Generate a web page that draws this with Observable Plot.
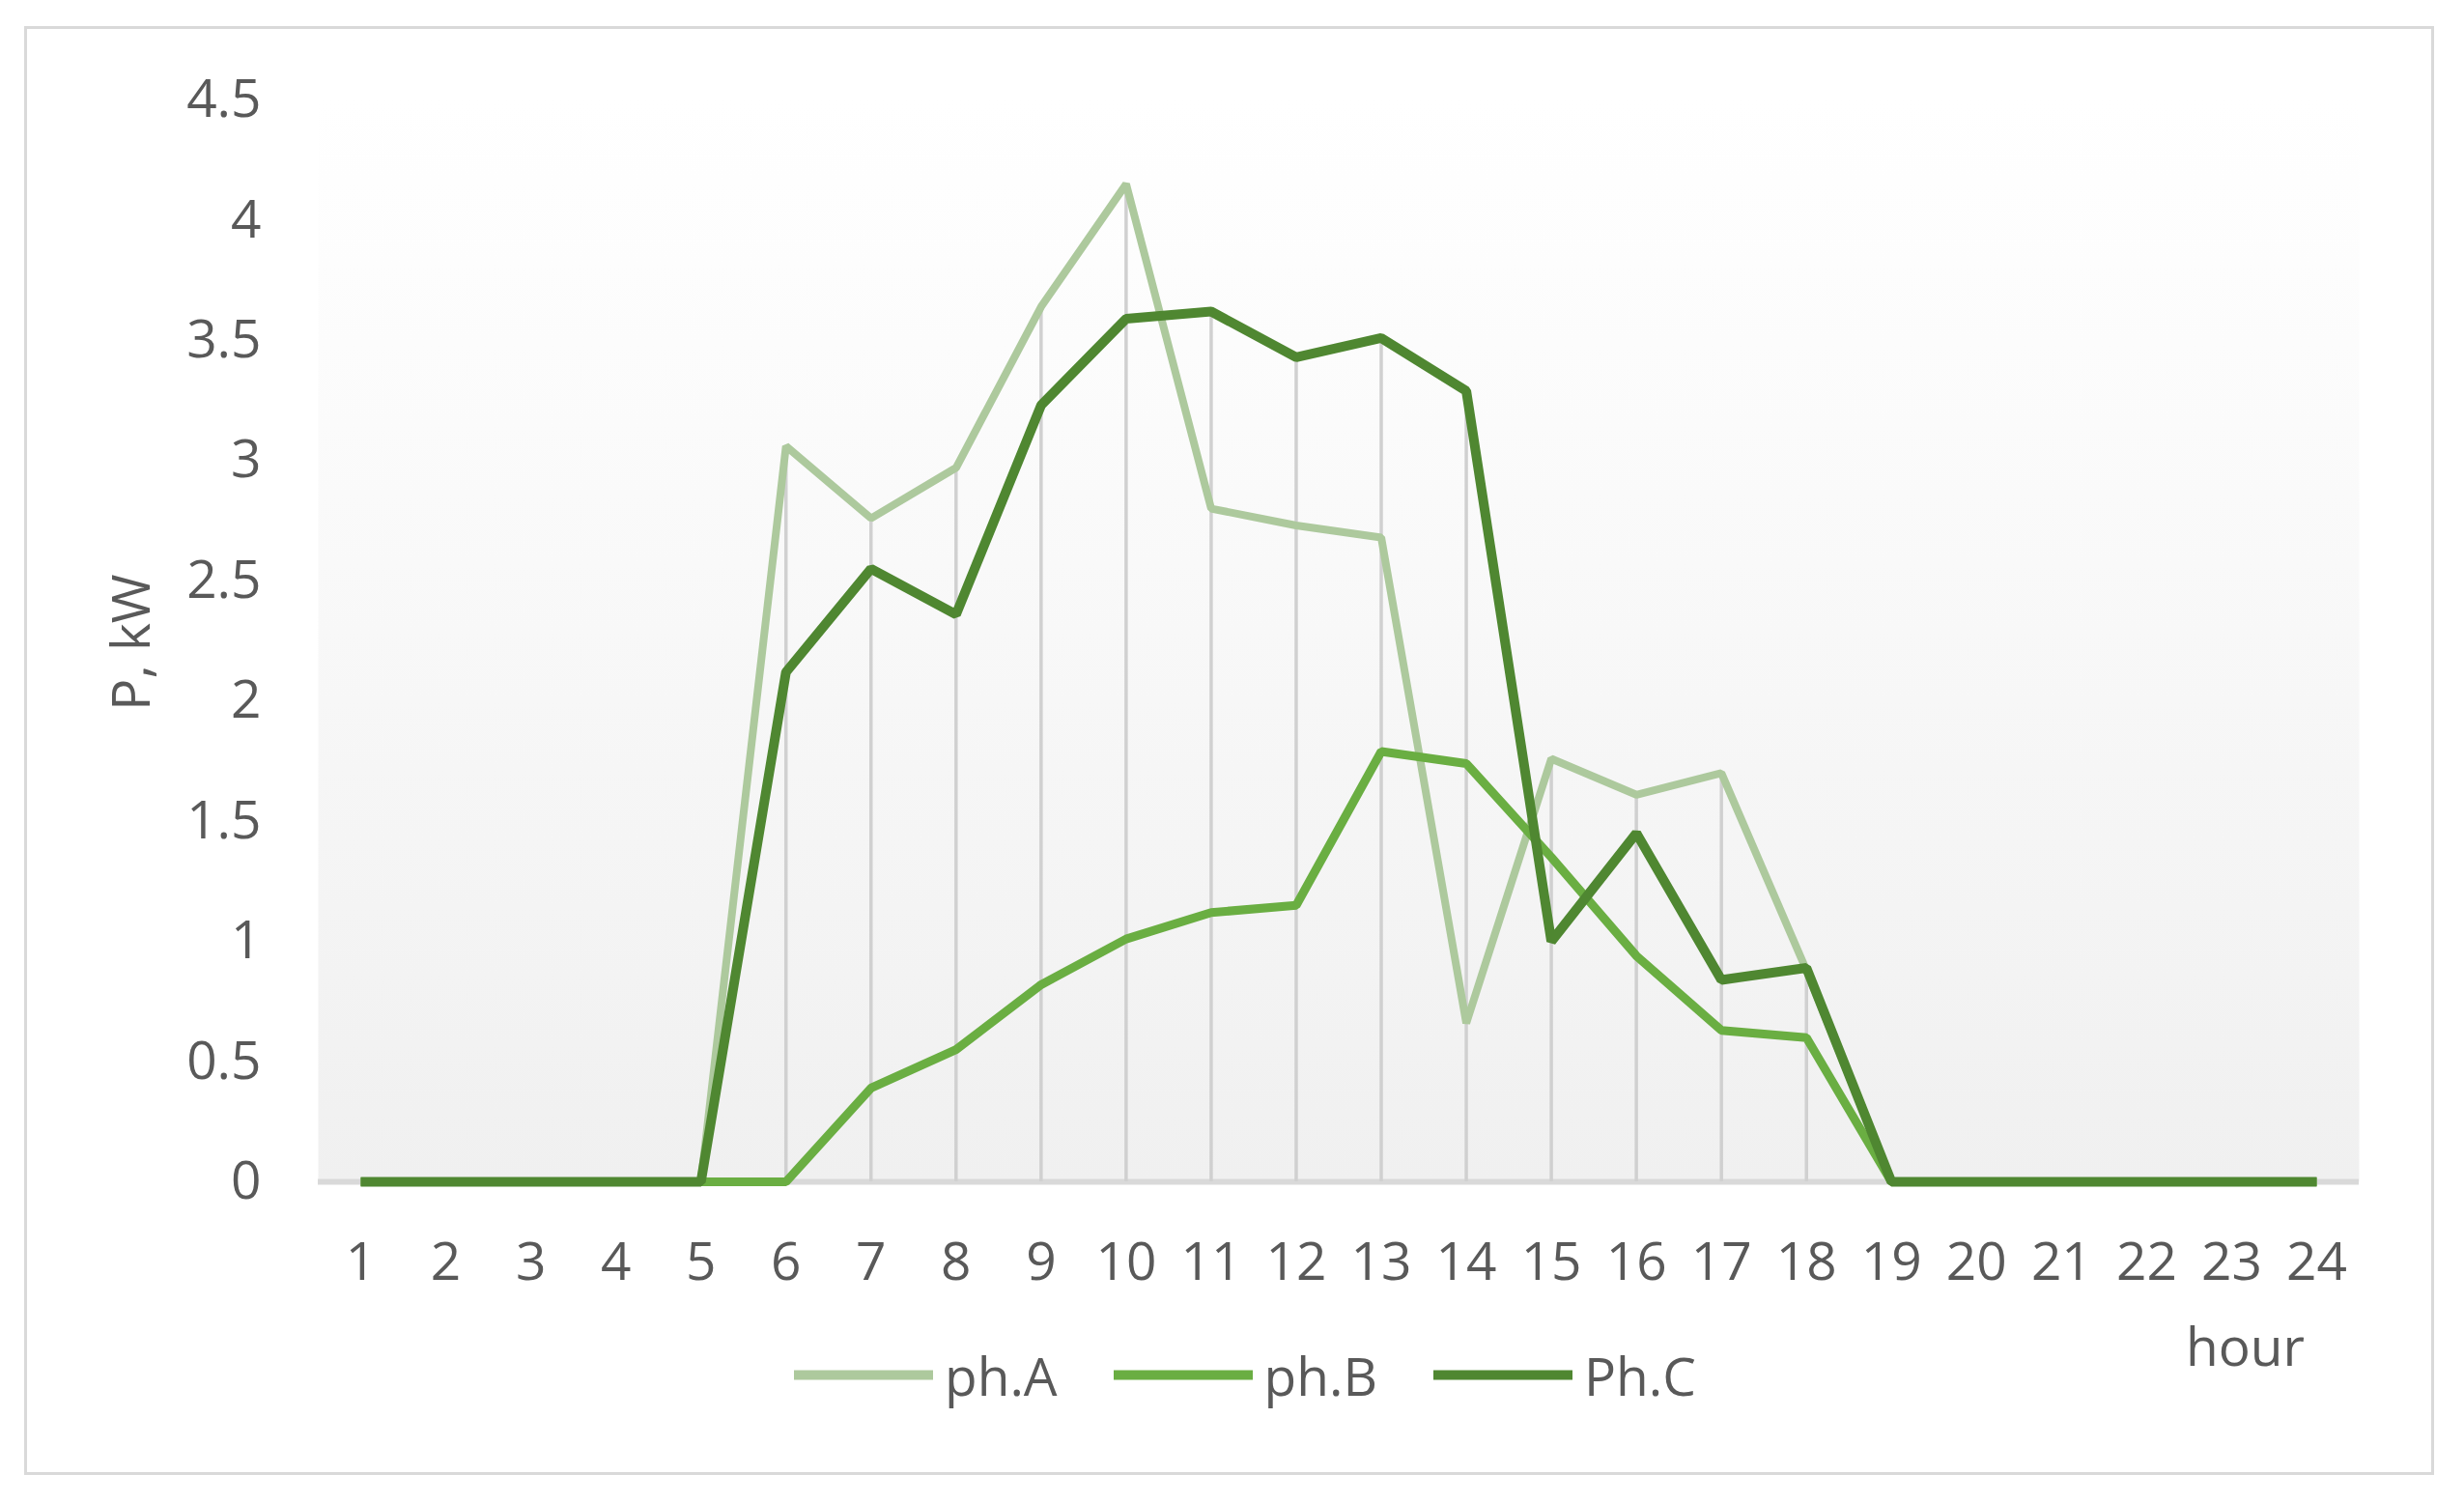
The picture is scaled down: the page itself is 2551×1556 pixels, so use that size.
<!DOCTYPE html>
<html>
<head>
<meta charset="utf-8">
<script src="https://cdn.jsdelivr.net/npm/d3@7"></script>
<script src="https://cdn.jsdelivr.net/npm/@observablehq/plot@0.6"></script>
<style>
  html, body { margin: 0; padding: 0; background: #ffffff; }
  #wrap { position: relative; width: 2551px; height: 1556px; overflow: hidden;
          font-family: "Open Sans", sans-serif; color: #595959; }
  #border { position: absolute; left: 25px; top: 27px; width: 2495px; height: 1500px;
            border: 3px solid #d9d9d9; box-sizing: border-box; }
  #chart { position: absolute; left: 0; top: 0; }
  .txt { position: absolute; font-size: 55px; line-height: 1; white-space: nowrap; }
  #ylabel { left: 133px; top: 665px; transform: translate(-50%, -50%) rotate(-90deg); }
  #xlabel { left: 2263px; top: 1365px; }
  #legend { position: absolute; left: 822px; top: 1423px; transform: translateY(-50%);
            display: flex; align-items: center; font-size: 55px; line-height: 1; }
  .item { display: flex; align-items: center; margin-right: 58px; }
  .swatch { width: 144px; height: 10px; margin-right: 12px; }
</style>
</head>
<body>
<div id="wrap">
  <div id="border"></div>
  <div id="chart"></div>
  <div id="ylabel" class="txt"></div>
  <div id="xlabel" class="txt"></div>
  <div id="legend"></div>
</div>
<script>
// ---- data ----
const hours = [1,2,3,4,5,6,7,8,9,10,11,12,13,14,15,16,17,18,19,20,21,22,23,24];
const phA = [0,0,0,0,0,3.06,2.76,2.97,3.64,4.15,2.80,2.73,2.68,0.66,1.76,1.61,1.70,0.88,0,0,0,0,0,0];
const phB = [0,0,0,0,0,0,0.39,0.55,0.82,1.01,1.12,1.15,1.79,1.74,1.35,0.94,0.63,0.60,0,0,0,0,0,0];
const phC = [0,0,0,0,0,2.12,2.55,2.36,3.23,3.59,3.62,3.43,3.51,3.29,1.00,1.45,0.84,0.89,0,0,0,0,0,0];
const seriesNames = ["ph.A", "ph.B", "Ph.C"];
const seriesColors = ["#adc99d", "#6aae42", "#4f8731"];
const seriesWidths = [8, 9, 10];
const yTicks = [0, 0.5, 1, 1.5, 2, 2.5, 3, 3.5, 4, 4.5];
const yTitle = "P, kW";
const xTitle = "hour";

// ---- build tables ----
const seriesValues = [phA, phB, phC];
const rows = [];
seriesNames.forEach((name, s) => {
  seriesValues[s].forEach((v, i) => rows.push({hour: hours[i], value: v, series: name}));
});
const drops = hours.map((h, i) => ({hour: h, top: Math.max(phA[i], phB[i], phC[i])})).filter(d => d.top > 0);

const lineMarks = seriesNames.map((name, s) =>
  Plot.lineY(rows.filter(r => r.series === name), {
    x: "hour", y: "value", stroke: seriesColors[s], strokeWidth: seriesWidths[s],
    strokeLinejoin: "miter", strokeLinecap: "butt"
  })
);

const plot = Plot.plot({
  width: 2551,
  height: 1556,
  marginLeft: 329,
  marginRight: 109,
  marginTop: 103,
  marginBottom: 333,
  x: {domain: [0.5, 24.5]},
  y: {domain: [0, 4.5]},
  style: {fontFamily: "'Open Sans', sans-serif", fontSize: "55px", color: "#595959", background: "transparent", overflow: "visible"},
  marks: [
    Plot.frame({fill: "url(#bgGrad)", stroke: "none"}),
    Plot.ruleY([0], {stroke: "#d9d9d9", strokeWidth: 6}),
    Plot.ruleX(drops, {x: "hour", y1: 0, y2: "top", stroke: "#d0d0d0", strokeWidth: 3.5}),
    ...lineMarks,
    Plot.axisX({ticks: hours, tickSize: 0, tickPadding: 62, tickFormat: d => String(d), label: null, fill: "#595959"}),
    Plot.axisY({ticks: yTicks, tickSize: 0, tickPadding: 59, tickFormat: d => String(d), label: null, fill: "#595959"})
  ]
});

// gradient fill for the plot area
const svg = d3.select(plot);
const defs = svg.insert("defs", ":first-child");
const grad = defs.append("linearGradient").attr("id", "bgGrad")
  .attr("x1", 0).attr("y1", 0).attr("x2", 0).attr("y2", 1);
grad.append("stop").attr("offset", "0").attr("stop-color", "#ffffff");
grad.append("stop").attr("offset", "0.3").attr("stop-color", "#fbfbfb");
grad.append("stop").attr("offset", "1").attr("stop-color", "#f0f0f0");

document.getElementById("chart").appendChild(plot);
document.getElementById("ylabel").textContent = yTitle;
document.getElementById("xlabel").textContent = xTitle;

// legend
const legend = d3.select("#legend");
seriesNames.forEach((name, s) => {
  const item = legend.append("div").attr("class", "item");
  item.append("div").attr("class", "swatch").style("background", seriesColors[s]);
  item.append("span").text(name);
});
</script>
</body>
</html>
